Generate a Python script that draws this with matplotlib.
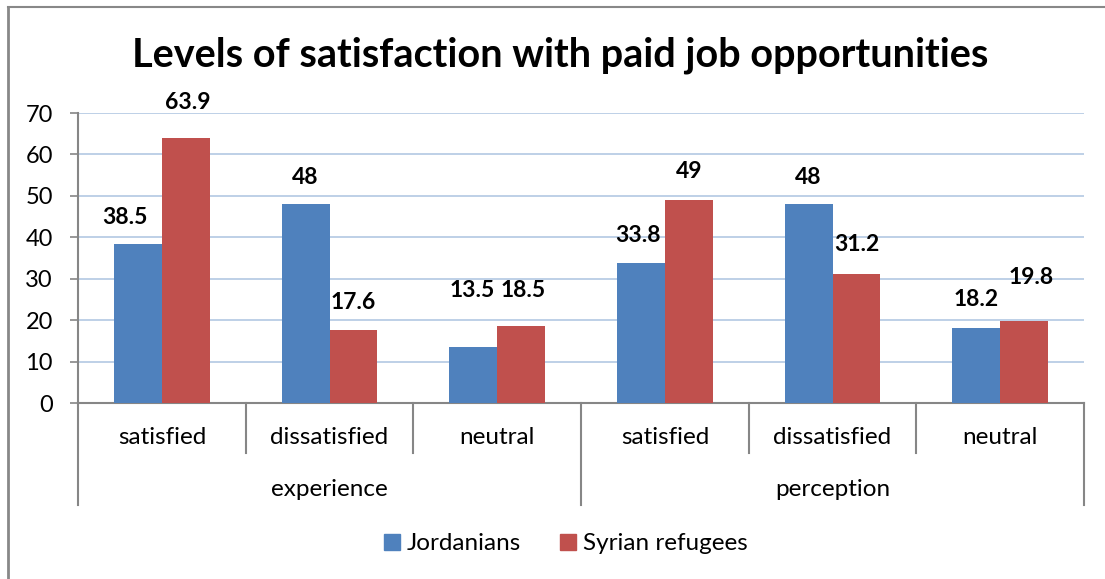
import matplotlib
matplotlib.use("Agg")
import matplotlib.pyplot as plt
import numpy as np
from matplotlib.lines import Line2D
from matplotlib.patches import Patch

# survey results (percent)
groups = ["experience", "perception"]
answers = ["satisfied", "dissatisfied", "neutral"]
jordanians = [38.5, 48, 13.5, 33.8, 48, 18.2]
syrians = [63.9, 17.6, 18.5, 49, 31.2, 19.8]
series_names = ["Jordanians", "Syrian refugees"]

BLUE = "#4f81bd"
RED = "#c0504d"
GRID = "#b9cde5"
AXIS = "#868686"

plt.rcParams["font.family"] = ["Lato", "DejaVu Sans"]

W, H = 1105, 579
fig = plt.figure(figsize=(W / 100, H / 100), dpi=100)
# axes box in pixels: left 78, right 1084, top 113, bottom 403
ax = fig.add_axes([78 / W, 1 - 403 / H, (1084 - 78) / W, (403 - 113) / H])

n = len(jordanians)
x = np.arange(n)
bw = 0.286
ax.bar(x - bw / 2, jordanians, bw, color=BLUE, zorder=3)
ax.bar(x + bw / 2, syrians, bw, color=RED, zorder=3)

ax.set_xlim(-0.5, n - 0.5)
ax.set_ylim(0, 70)
ax.set_yticks(range(0, 71, 10))
ax.tick_params(axis="y", length=6, color=AXIS, width=1.2, labelsize=17, pad=12)
ax.tick_params(axis="x", length=0, labelbottom=False)
ax.grid(axis="y", color=GRID, linewidth=1.3, zorder=0)

for side in ["top", "right"]:
    ax.spines[side].set_visible(False)
ax.spines["left"].set_color(AXIS)
ax.spines["left"].set_linewidth(1.5)
ax.spines["bottom"].set_color(AXIS)
ax.spines["bottom"].set_linewidth(1.5)

# value labels, nudged in pixels where they would collide
nudge_j = [(-13, 26), (0, 27), (-1, 57), (-3, 27), (0, 27), (0, 28)]
nudge_s = [(2, 36), (0, 28), (2, 36), (0, 28), (0, 29), (7, 43)]
for xs, vals, nudges in [(x - bw / 2, jordanians, nudge_j),
                         (x + bw / 2, syrians, nudge_s)]:
    for xi, v, (dx, dy) in zip(xs, vals, nudges):
        ax.annotate(f"{v:g}", (xi, v), xytext=(dx, dy),
                    textcoords="offset pixels", ha="center", va="center",
                    fontsize=16.5, fontweight="bold", zorder=4)

# two-level category axis
trans = ax.get_xaxis_transform()
short_y = -50 / 290
long_y = -102 / 290
for b in np.arange(-0.5, n, 1.0):
    is_group_edge = abs((b + 0.5) % 3) < 1e-9
    y_end = long_y if is_group_edge else short_y
    ax.add_line(Line2D([b, b], [0, y_end], transform=trans, color=AXIS,
                       linewidth=1.5, clip_on=False))
for i in range(n):
    ax.text(x[i], -35 / 290, answers[i % 3], transform=trans, ha="center",
            va="center", fontsize=17.5)
for g, name in enumerate(groups):
    ax.text(g * 3 + 1, -87 / 290, name, transform=trans, ha="center",
            va="center", fontsize=17.5)

fig.text(560 / W, 1 - 55 / H, "Levels of satisfaction with paid job opportunities",
         ha="center", va="center", fontsize=28.5, fontweight="bold")

handles = [Patch(color=BLUE), Patch(color=RED)]
fig.legend(handles, series_names, loc="center", bbox_to_anchor=(566 / W, 1 - 544 / H),
           ncol=2, frameon=False, fontsize=17.5, handlelength=0.65, handleheight=0.65,
           handletextpad=0.3, columnspacing=1.6)

# outer chart frame (top and left edges)
fig.add_artist(Line2D([8 / W, 1], [1 - 7 / H, 1 - 7 / H], transform=fig.transFigure,
                      color="#888888", linewidth=1.5))
fig.add_artist(Line2D([8 / W, 8 / W], [0, 1 - 7 / H], transform=fig.transFigure,
                      color="#888888", linewidth=2))

fig.savefig("out.png", dpi=100, facecolor="white")
